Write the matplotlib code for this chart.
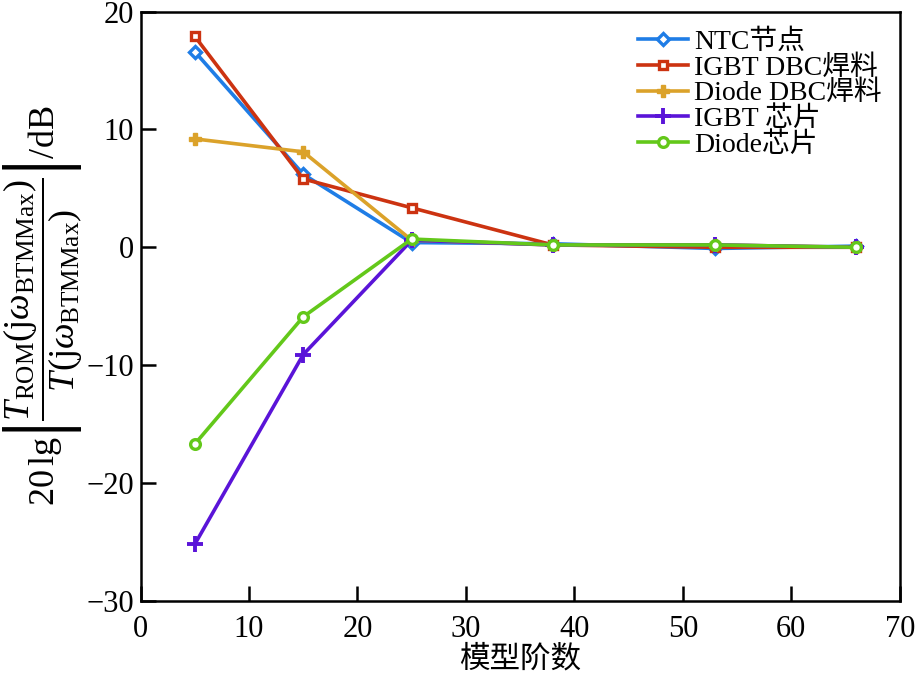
import matplotlib
matplotlib.use("Agg")
import matplotlib.pyplot as plt

plt.rcParams['font.family'] = ['Liberation Serif', 'Noto Sans CJK SC']
plt.rcParams['mathtext.fontset'] = 'custom'
plt.rcParams['mathtext.rm'] = 'Liberation Serif'
plt.rcParams['mathtext.it'] = 'Liberation Serif:italic'
plt.rcParams['mathtext.bf'] = 'Liberation Serif:bold'

orders = [5, 15, 25, 38, 53, 66]
ntc = [16.6, 6.2, 0.4, 0.3, -0.1, 0.1]
igbt_dbc = [17.9, 5.8, 3.35, 0.2, 0.0, 0.0]
diode_dbc = [9.2, 8.1, 0.6, 0.2, 0.2, 0.0]
igbt_chip = [-25.2, -9.1, 0.6, 0.2, 0.2, 0.0]
diode_chip = [-16.7, -5.9, 0.7, 0.2, 0.2, 0.0]

labels = ['NTC节点', 'IGBT DBC焊料', 'Diode DBC焊料', 'IGBT 芯片', 'Diode芯片']
series = [ntc, igbt_dbc, diode_dbc, igbt_chip, diode_chip]
colors = ['#1f7de6', '#cc3311', '#dba22a', '#5a14d8', '#63c81a']
markers = ['D', 's', 'P', '+', 'o']
msizes = [6, 6, 8, 11, 7]

fig = plt.figure(figsize=(9.19, 6.85), dpi=100)
ax = fig.add_axes([0.153, 0.123, 0.826, 0.860])

for y, lab, c, m, ms in zip(series, labels, colors, markers, msizes):
    if m in ('+',):
        ax.plot(orders, y, color=c, marker=m, markersize=ms, markeredgewidth=2.8,
                linewidth=2.6, label=lab)
    elif m == 'P':
        ax.plot(orders, y, color=c, marker=m, markersize=ms, markerfacecolor=c,
                markeredgecolor=c, markeredgewidth=1, linewidth=2.6, label=lab)
    else:
        ax.plot(orders, y, color=c, marker=m, markersize=ms, markerfacecolor='white',
                markeredgecolor=c, markeredgewidth=2.4, linewidth=2.6, label=lab)

ax.set_xlim(0, 70)
ax.set_ylim(-30, 20)
ax.set_xticks([0, 10, 20, 30, 40, 50, 60, 70])
ax.set_yticks([-30, -20, -10, 0, 10, 20])
ax.set_yticklabels(['\u221230', '\u221220', '\u221210', '0', '10', '20'])
ax.tick_params(direction='in', length=11, width=1.8, labelsize=22, top=False, right=False, pad=5)
ax.tick_params(axis='x', pad=10)
for s in ax.spines.values():
    s.set_linewidth(1.8)

ax.set_xlabel('模型阶数', fontsize=22, labelpad=1)
ax.set_ylabel(r'$20\,\mathrm{lg}\left|\dfrac{T_{\mathrm{ROM}}(\mathrm{j}\omega_{\mathrm{BTMMax}})}{T(\mathrm{j}\omega_{\mathrm{BTMMax}})}\right|/\mathrm{dB}$',
              fontsize=26, labelpad=1)

leg = ax.legend(loc='upper right', bbox_to_anchor=(0.998, 0.998), fontsize=20, frameon=False,
                handlelength=1.8, handletextpad=0.2, labelspacing=0.0, borderaxespad=0.2)

fig.savefig('out.png', dpi=100)
